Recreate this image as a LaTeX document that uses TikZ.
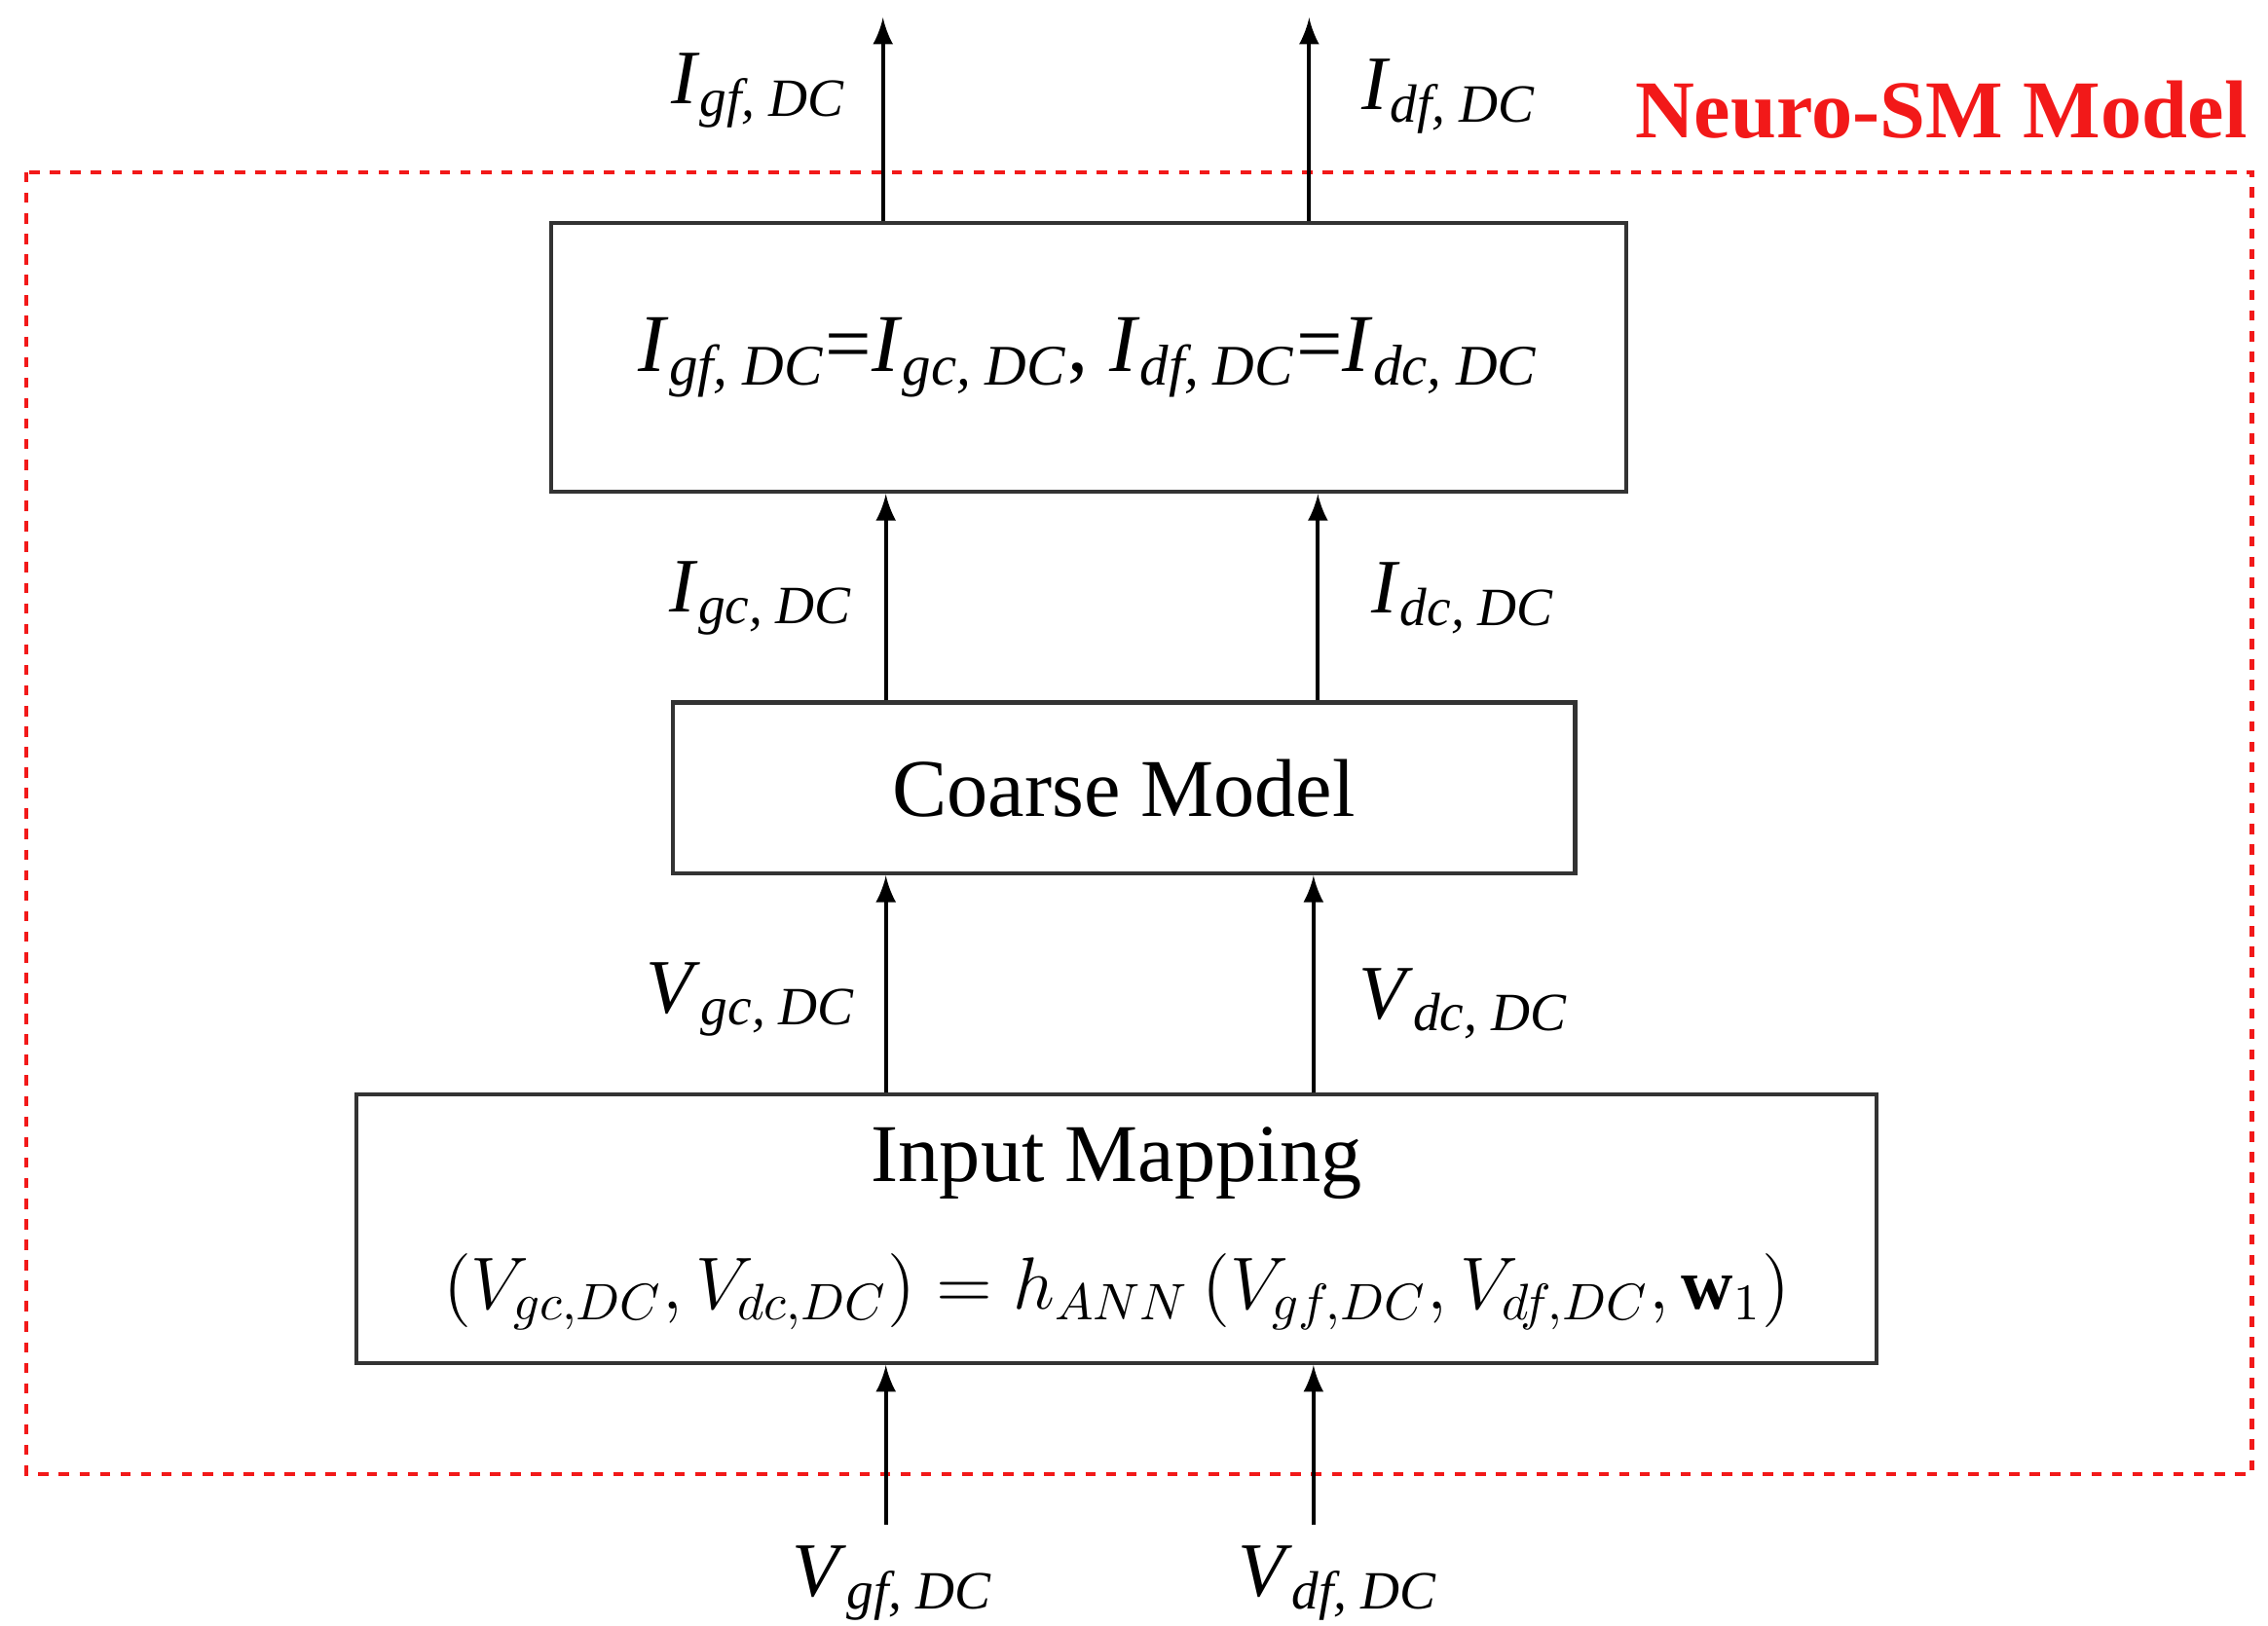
\documentclass[tikz,border=0pt]{standalone}
\usepackage{fontspec}
\setmainfont{Liberation Serif}
\usetikzlibrary{arrows,positioning}
\definecolor{smred}{rgb}{.95,.1,.1}
\newcommand{\Sub}[2]{\textit{#1}\textsubscript{\textit{#2}}}

\begin{document}
\begin{tikzpicture}[x=0.01cm,y=-0.01cm,% y down, as in the picture
					every node/.style={
						align=center,		% line breaks
						inner sep=0pt
						},
					blk/.style={rectangle,draw=black!80,thick,fill=white},
					lbl/.style={font=\fontsize{15}{17}\selectfont},
					every edge/.style={draw,thick,-latex}
					]
\useasboundingbox (0,0) rectangle (1554,1114);
\draw[smred,thick,dash pattern=on 2pt off 2pt] (18,118) rectangle (1543,1010);
\node[text=smred,font=\fontsize{16}{18}\selectfont\bfseries](M) at (1330,75){Neuro-SM Model};
% blocks
\node[blk,minimum width=7.36cm,minimum height=1.84cm,font=\fontsize{16}{18}\selectfont](B1) at (746,245)
	{\Sub{I}{gf, DC}=\Sub{I}{gc, DC}, \Sub{I}{df, DC}=\Sub{I}{dc, DC}};
\node[blk,minimum width=6.18cm,minimum height=1.17cm,font=\fontsize{16}{18}\selectfont](B2) at (770,540){Coarse Model};
\node[blk,minimum width=10.41cm,minimum height=1.84cm](B3) at (765,842){};
\node[font=\fontsize{16}{18}\selectfont](T3) at (765,797){Input Mapping};
\node[font=\fontsize{14}{16}\selectfont](F3) at (765,885)
	{$\left(V_{gc,DC},V_{dc,DC}\right)=h_{ANN}\left(V_{gf,DC},V_{df,DC},\mathbf{w}_1\right)$};
% connector ends
\coordinate (o1) at (605,12);
\coordinate (o2) at (897,12);
\coordinate (xa) at (607,0);
\coordinate (xb) at (903,0);
\coordinate (xc) at (900,0);
\coordinate (i1) at (607,1045);
\coordinate (i2) at (900,1045);
\path
(B1.north -| o1) edge (o1)
(B1.north -| o2) edge (o2)
(B2.north -| xa) edge (B1.south -| xa)
(B2.north -| xb) edge (B1.south -| xb)
(B3.north -| xa) edge (B2.south -| xa)
(B3.north -| xc) edge (B2.south -| xc)
(i1) edge (B3.south -| i1)
(i2) edge (B3.south -| i2)
;
% labels
\node[lbl](L1) at (520,62){\Sub{I}{gf, DC}};
\node[lbl](L2) at (993,66){\Sub{I}{df, DC}};
\node[lbl](L3) at (522,410){\Sub{I}{gc, DC}};
\node[lbl](L4) at (1003,410){\Sub{I}{dc, DC}};
\node[lbl](L5) at (515,685){\Sub{V}{gc, DC}};
\node[lbl](L6) at (1003,688){\Sub{V}{dc, DC}};
\node[lbl](L7) at (612,1085){\Sub{V}{gf, DC}};
\node[lbl](L8) at (917,1085){\Sub{V}{df, DC}};
\end{tikzpicture}
\end{document}
